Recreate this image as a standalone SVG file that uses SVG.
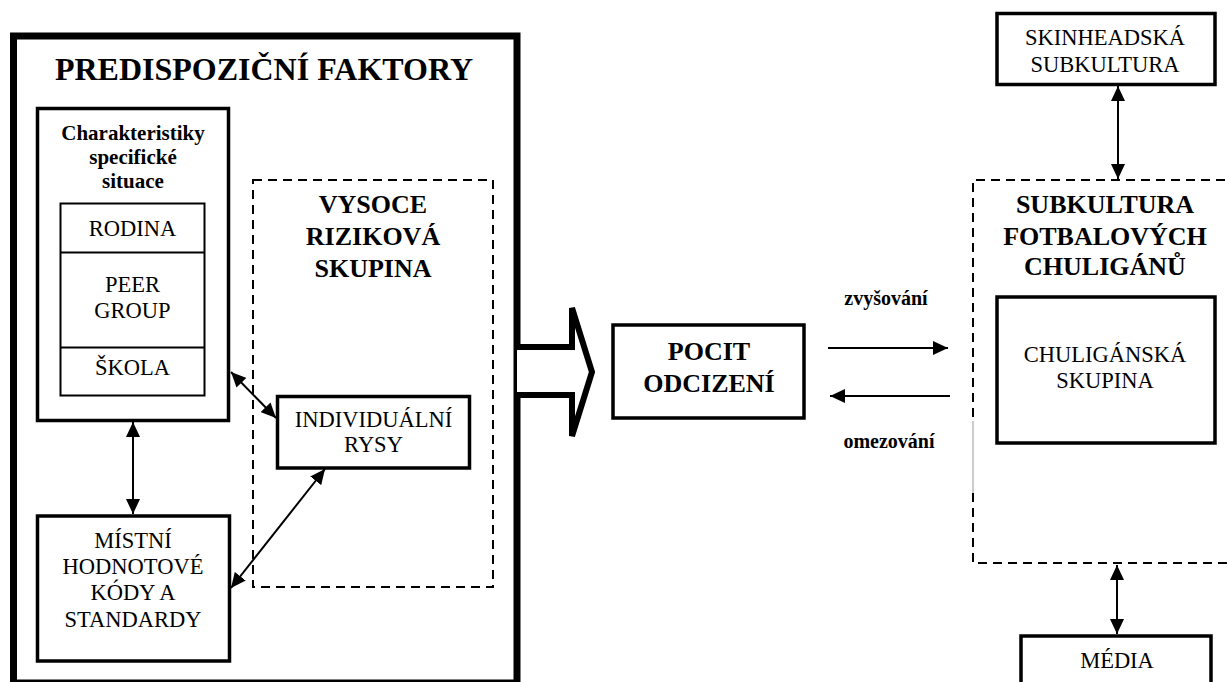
<svg xmlns="http://www.w3.org/2000/svg" width="1229" height="682" viewBox="0 0 1229 682">
<style>
text{font-family:"Liberation Serif","Times New Roman",serif;fill:#000;text-anchor:middle}
.b{font-weight:bold}
.r{font-size:22.5px}
.box{fill:#fff;stroke:#000;stroke-width:3.5}
.thin{fill:none;stroke:#000;stroke-width:2}
.dash{fill:none;stroke:#000;stroke-width:2;stroke-dasharray:9 6}
.con{fill:none;stroke:#000;stroke-width:2}
</style>
<defs>
<marker id="ah" viewBox="0 0 15 14" refX="15" refY="7" markerWidth="15" markerHeight="14" markerUnits="userSpaceOnUse" orient="auto-start-reverse">
<path d="M0,0 L15,7 L0,14 z" fill="#000"/>
</marker>
</defs>
<rect width="1229" height="682" fill="#fff"/>

<g id="predispozicni">
<rect x="13.5" y="36" width="503.5" height="647" fill="#fff" stroke="#000" stroke-width="7"/>
<text x="264" y="80" class="b" font-size="32">PREDISPOZIČNÍ FAKTORY</text>
</g>

<g id="charakteristiky">
<rect class="box" x="37.5" y="108.5" width="191" height="312"/>
<text class="b" font-size="21" x="133" y="140">Charakteristiky</text>
<text class="b" font-size="21" x="133" y="164">specifické</text>
<text class="b" font-size="21" x="133" y="188">situace</text>
</g>

<g id="situace">
<rect class="thin" x="60.5" y="203.5" width="144" height="192"/>
<line class="thin" x1="60.5" y1="252.5" x2="204.5" y2="252.5"/>
<line class="thin" x1="60.5" y1="347.5" x2="204.5" y2="347.5"/>
<text class="r" x="132.5" y="236">RODINA</text>
<text class="r" x="132.5" y="292">PEER</text>
<text class="r" x="132.5" y="318">GROUP</text>
<text class="r" x="132.5" y="375">ŠKOLA</text>
</g>

<g id="vysoce">
<rect class="dash" x="253" y="180" width="240" height="407"/>
<text class="b" font-size="26" x="373" y="213">VYSOCE</text>
<text class="b" font-size="26" x="373" y="245">RIZIKOVÁ</text>
<text class="b" font-size="26" x="373" y="277">SKUPINA</text>
</g>

<g id="individualni">
<rect class="box" x="277.5" y="396.5" width="192" height="71.5"/>
<text class="r" x="373.5" y="427">INDIVIDUÁLNÍ</text>
<text class="r" x="373.5" y="451.5">RYSY</text>
</g>

<g id="mistni">
<rect class="box" x="37.5" y="516" width="192" height="145"/>
<text class="r" x="133" y="548">MÍSTNÍ</text>
<text class="r" x="133" y="574">HODNOTOVÉ</text>
<text class="r" x="133" y="600">KÓDY A</text>
<text class="r" x="133" y="626.5">STANDARDY</text>
</g>

<g id="pocit">
<rect class="box" x="613" y="325" width="191" height="93"/>
<text class="b" font-size="26" x="709" y="360">POCIT</text>
<text class="b" font-size="26" x="709" y="392">ODCIZENÍ</text>
</g>

<g id="skinhead">
<rect class="box" x="997" y="13.5" width="218" height="71"/>
<text class="r" x="1105" y="45">SKINHEADSKÁ</text>
<text class="r" x="1105" y="71.5">SUBKULTURA</text>
</g>

<g id="subkultura">
<path class="dash" d="M1240 180 H973 V421"/>
<path d="M973 421 V493" fill="none" stroke="#999" stroke-width="1"/>
<path class="dash" d="M973 493 V563 H1240"/>
<text class="b" font-size="26" x="1105" y="213">SUBKULTURA</text>
<text class="b" font-size="26" x="1105" y="245">FOTBALOVÝCH</text>
<text class="b" font-size="26" x="1105" y="275">CHULIGÁNŮ</text>
</g>

<g id="chuligan">
<rect class="box" x="997" y="297" width="218" height="146"/>
<text class="r" x="1105" y="362">CHULIGÁNSKÁ</text>
<text class="r" x="1105" y="387.5">SKUPINA</text>
</g>

<g id="media">
<rect class="box" x="1021" y="636" width="190" height="70"/>
<text class="r" x="1117" y="668">MÉDIA</text>
</g>

<g id="connectors">
<path d="M517 347 H572 V308 L592 372 L572 436 V395 H517" fill="#fff" stroke="#000" stroke-width="6" stroke-linejoin="miter"/>
<line class="con" x1="133" y1="422" x2="133" y2="514" marker-start="url(#ah)" marker-end="url(#ah)"/>
<line class="con" x1="231" y1="372" x2="276" y2="418" marker-start="url(#ah)" marker-end="url(#ah)"/>
<line class="con" x1="325" y1="469" x2="231" y2="588" marker-start="url(#ah)" marker-end="url(#ah)"/>
<line class="con" x1="828" y1="348" x2="948" y2="348" marker-end="url(#ah)"/>
<line class="con" x1="950" y1="396" x2="830" y2="396" marker-end="url(#ah)"/>
<line class="con" x1="1118" y1="86" x2="1118" y2="179" marker-start="url(#ah)" marker-end="url(#ah)"/>
<line class="con" x1="1117" y1="565" x2="1117" y2="634" marker-start="url(#ah)" marker-end="url(#ah)"/>
<text class="b" font-size="20" x="886" y="305">zvyšování</text>
<text class="b" font-size="20" x="889" y="448">omezování</text>
</g>
</svg>
